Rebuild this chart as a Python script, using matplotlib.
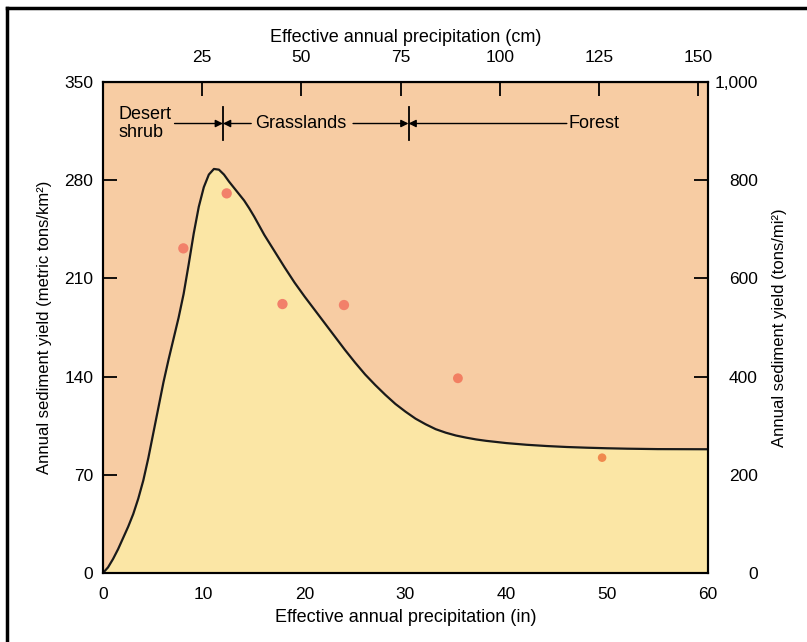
import matplotlib
matplotlib.use("Agg")
import matplotlib.pyplot as plt
from matplotlib.lines import Line2D

plt.rcParams['font.family'] = ['Liberation Sans', 'DejaVu Sans']

# sediment yield curve (inches -> metric tons/km2)
curve_in = [0, 0.5, 1, 1.5, 2, 2.5, 3, 3.5, 4, 4.5, 5, 5.5, 6, 6.5, 7, 7.5, 8, 8.5,
            9, 9.5, 10, 10.5, 11, 11.5, 12, 12.5, 13, 13.5, 14, 14.5, 15, 15.5, 16,
            17, 18, 19, 20, 21, 22, 23, 24, 25, 26, 27, 28, 29, 30, 31, 32, 33, 34,
            35, 36, 37, 38, 40, 42, 44, 46, 48, 50, 52, 55, 60]
curve_t = [0, 4, 10, 17, 25, 33, 42, 53, 66, 82, 100, 118, 136, 152, 167, 182, 199, 220,
           242, 261, 275, 284, 288, 287.5, 284, 279, 274.5, 270, 265.5, 260, 254, 247.5, 241,
           229.5, 218, 207, 197, 187.5, 178, 168.5, 159, 150, 141.5, 134, 127, 120.5, 115, 110,
           106, 102.5, 100, 98, 96.5, 95.2, 94.2, 92.6, 91.4, 90.5, 89.8, 89.3, 88.9, 88.6,
           88.3, 88.2]

# measured points
pts_in = [7.97, 12.27, 17.8, 23.9, 35.2, 49.5]
pts_t = [231.4, 270.6, 191.7, 191.0, 138.8, 82.2]
pts_size = [55, 55, 55, 55, 50, 38]
pts_color = ['#F2806A', '#F2806A', '#F2806A', '#F2806A', '#F27F62', '#F0894E']

in_ticks = [0, 10, 20, 30, 40, 50, 60]
left_ticks = [0, 70, 140, 210, 280, 350]
right_ticks = [0, 200, 400, 600, 800, 1000]
right_labels = ['0', '200', '400', '600', '800', '1,000']
cm_ticks = [25, 50, 75, 100, 125, 150]

# vegetation zones (boundaries in inches)
bounds = [11.9, 30.3]
ann_y = 320.4

peach = '#F7CCA3'
yellow = '#FBE6A5'

fig = plt.figure(figsize=(8.07, 6.42), dpi=100)
ax = fig.add_axes([0.1276, 0.1075, 0.7497, 0.7648])
ax.set_facecolor(peach)
ax.fill_between(curve_in, 0, curve_t, color=yellow, lw=0)
ax.plot(curve_in, curve_t, color='#1a1a1a', lw=1.6, solid_joinstyle='round')
ax.scatter(pts_in, pts_t, s=pts_size, c=pts_color, edgecolors='none', zorder=3)

ax.set_xlim(0, 60)
ax.set_ylim(0, 350)
ax.set_xticks(in_ticks)
ax.set_yticks(left_ticks)
ax.tick_params(axis='y', direction='in', length=10, width=1.3, pad=7, labelsize=12.5)
ax.tick_params(axis='x', length=0, pad=10, labelsize=12.5)
ax.set_xlabel('Effective annual precipitation (in)', fontsize=13, labelpad=5)
ax.set_ylabel('Annual sediment yield (metric tons/km²)', fontsize=12, labelpad=9)
for s in ax.spines.values():
    s.set_linewidth(1.5)

# right axis in tons/mi2
ax2 = ax.twinx()
ax2.set_ylim(0, 1000)
ax2.set_yticks(right_ticks, right_labels)
ax2.tick_params(direction='in', length=10, width=1.3, pad=36, labelsize=12.5)
for lab in ax2.get_yticklabels():
    lab.set_ha('right')
for t, v in zip(ax2.yaxis.get_major_ticks(), right_ticks):
    if v in (0, 200, 1000):
        t.tick2line.set_visible(False)
ax2.set_ylabel('Annual sediment yield (tons/mi²)', fontsize=12, rotation=90, labelpad=10)
for s in ax2.spines.values():
    s.set_linewidth(1.5)

# top axis in cm
axt = ax.secondary_xaxis('top', functions=(lambda x: x * 2.54, lambda x: x / 2.54))
axt.set_xticks(cm_ticks)
axt.tick_params(direction='in', length=10, width=1.3, pad=12, labelsize=12.5)
axt.set_xlabel('Effective annual precipitation (cm)', fontsize=13, labelpad=6)

# zone labels and arrows
arr = dict(arrowstyle='-|>', color='k', lw=1, shrinkA=0, shrinkB=0, mutation_scale=11)
ax.text(1.5, ann_y, 'Desert\nshrub', ha='left', va='center', fontsize=13, linespacing=1.05)
ax.annotate('', xy=(bounds[0], ann_y), xytext=(7.1, ann_y), arrowprops=arr)
ax.annotate('', xy=(bounds[0], ann_y), xytext=(14.7, ann_y), arrowprops=arr)
ax.text(19.6, ann_y, 'Grasslands', ha='center', va='center', fontsize=13)
ax.annotate('', xy=(bounds[1], ann_y), xytext=(24.8, ann_y), arrowprops=arr)
ax.annotate('', xy=(bounds[1], ann_y), xytext=(46.0, ann_y), arrowprops=arr)
ax.text(46.2, ann_y, 'Forest', ha='left', va='center', fontsize=13)
for b in bounds:
    ax.plot([b, b], [ann_y - 12, ann_y + 12], color='k', lw=1.3)

# outer frame of the scanned figure (left and top edges only)
fx, fy = 7 / 807, 1 - 8 / 642
fig.add_artist(Line2D([fx, fx], [0, fy], transform=fig.transFigure, color='k', lw=2.5))
fig.add_artist(Line2D([fx, 1], [fy, fy], transform=fig.transFigure, color='k', lw=2.5))

fig.savefig('out.png', dpi=100)
